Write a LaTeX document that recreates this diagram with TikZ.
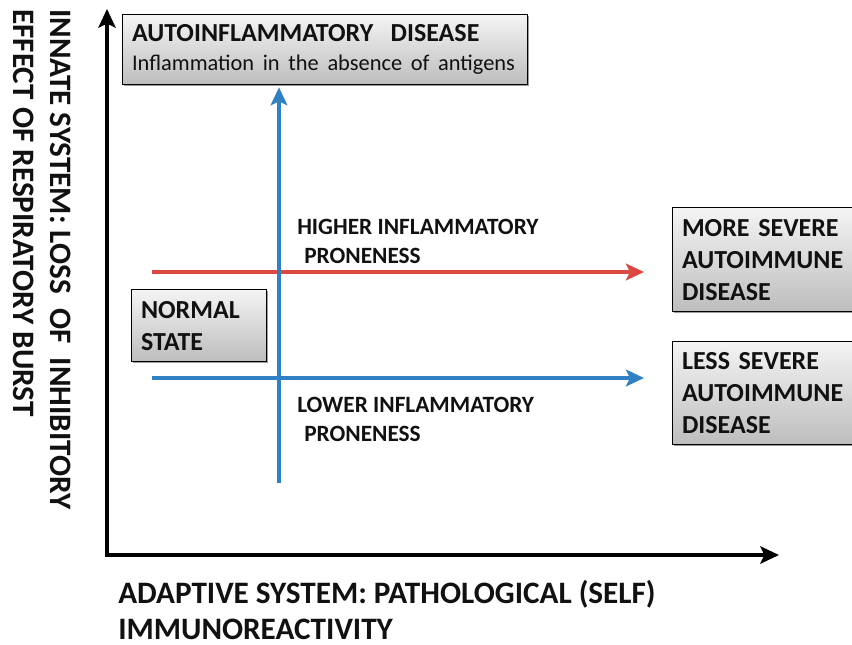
\documentclass[tikz,border=0pt]{standalone}
\usepackage{fontspec}
\setmainfont{Carlito}
\usepackage{tikz}
\usetikzlibrary{arrows.meta,positioning,shadows}
\definecolor{MapBlue}{HTML}{2F81C4}
\definecolor{MapRed}{HTML}{DA4A43}
\definecolor{MapInk}{HTML}{111111}
\definecolor{BoxTop}{HTML}{F4F4F4}
\definecolor{BoxBottom}{HTML}{BDBDBD}
\tikzset{
  maplabel/.style={font=\fontsize{23.4}{26.5}\selectfont\bfseries, text=MapInk, align=left, inner sep=0pt},
  mapsmall/.style={font=\fontsize{17.5}{21.5}\selectfont\bfseries, text=MapInk, align=left, inner sep=0pt},
  diseasebox/.style={draw=black, line width=1pt, top color=BoxTop, bottom color=BoxBottom,
    align=left, inner xsep=7pt, text=MapInk, font=\fontsize{19.5}{24}\selectfont\bfseries,
    drop shadow={shadow xshift=1.2pt, shadow yshift=-1.2pt, fill=black!55, opacity=0.7}},
  axisarrow/.style={line width=2.4pt, draw=black},
  bluearrow/.style={-{Stealth[length=13.5pt, width=12.5pt, inset=3pt]}, line width=3pt, draw=MapBlue},
  redarrow/.style={-{Stealth[length=13.5pt, width=12.5pt, inset=3pt]}, line width=3pt, draw=MapRed}
}
\begin{document}
\begin{tikzpicture}[x=0.75pt, y=-0.75pt]
\useasboundingbox (0,0) rectangle (852,645);
% axes
\coordinate (o) at (107,555);
\coordinate (ytip) at (107,9);
\coordinate (xtip) at (779,555);
\draw[axisarrow, {Stealth[length=14pt, width=13pt, inset=3pt]}-{Stealth[length=14pt, width=13pt, inset=3pt]}] (ytip) -- (o) -- (xtip);
\node[maplabel, rotate=-90, anchor=west, font=\fontsize{23.4}{28}\selectfont\bfseries] (innate) at (42,9)
  {INNATE SYSTEM: LOSS\ \ OF\ \ INHIBITORY\\EFFECT OF RESPIRATORY BURST};
\node[maplabel, anchor=west] (adaptive) at (118,610)
  {ADAPTIVE SYSTEM: PATHOLOGICAL (SELF)\\IMMUNOREACTIVITY};
% boxes
\node[diseasebox, anchor=north west, text width=289.75pt, minimum height=52.5pt] (auto) at (122,14)
  {AUTOINFLAMMATORY\ \ DISEASE\\[-2pt]{\mdseries\fontsize{16.8}{20}\selectfont Inflammation in the absence of antigens}};
\node[diseasebox, anchor=north west, text width=87.25pt, minimum height=54pt] (normal) at (131,289)
  {NORMAL\\STATE};
\node[diseasebox, anchor=north west, text width=140pt, minimum height=78pt] (more) at (672,207)
  {MORE SEVERE\\AUTOIMMUNE\\DISEASE};
\node[diseasebox, anchor=north west, text width=140pt, minimum height=77pt] (less) at (672,341)
  {LESS SEVERE\\AUTOIMMUNE\\DISEASE};
% proneness arrows
\coordinate (vbase) at (279,483);
\coordinate (hstart) at (152,272);
\coordinate (hend) at (644,272);
\coordinate (lstart) at (152,378);
\coordinate (lend) at (644,378);
\draw[redarrow] (hstart) -- (hend);
\draw[bluearrow] (lstart) -- (lend);
\draw[bluearrow] (vbase) -- ([yshift=-1.5pt]vbase |- auto.south);
\node[mapsmall, anchor=west] (higher) at (297,241.5) {HIGHER INFLAMMATORY\\\hspace{0.3em}PRONENESS};
\node[mapsmall, anchor=west] (lower) at (297,419.5) {LOWER INFLAMMATORY\\\hspace{0.3em}PRONENESS};
\end{tikzpicture}
\end{document}
